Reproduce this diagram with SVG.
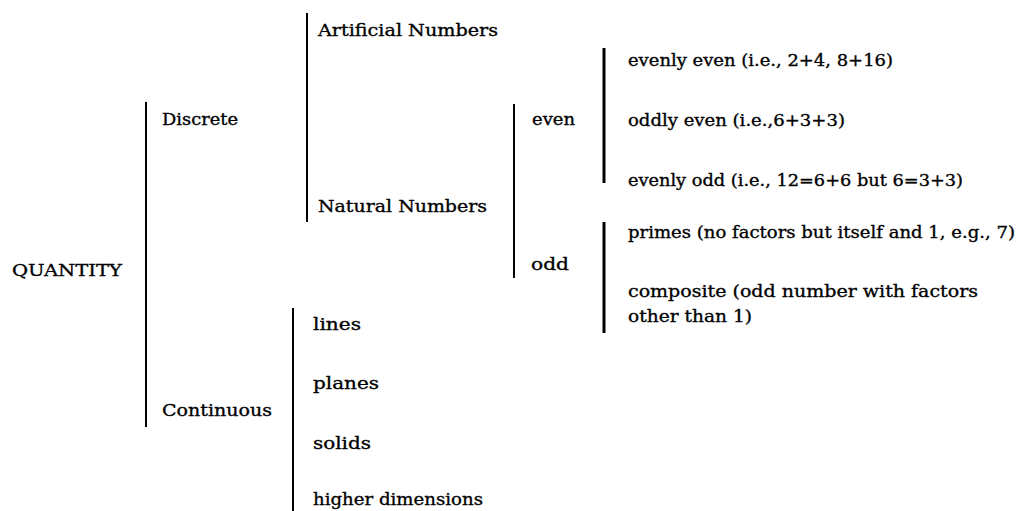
<svg xmlns="http://www.w3.org/2000/svg" width="1028" height="511" viewBox="0 0 1028 511">
<style>
text{font-family:"DejaVu Serif","Liberation Serif",serif;font-size:17.5px;fill:#000;stroke:#000;stroke-width:0.35}
.c{stroke:#000;stroke-width:2;fill:none}
.t{stroke:#000;stroke-width:3;fill:none}
</style>
<rect width="1028" height="511" fill="#fff"/>
<g id="connectors">
<line class="c" x1="146" y1="102" x2="146" y2="427"/>
<line class="c" x1="307" y1="13" x2="307" y2="222"/>
<line class="c" x1="293" y1="308" x2="293" y2="511"/>
<line class="c" x1="514" y1="104" x2="514" y2="278"/>
<line class="t" x1="604" y1="48" x2="604" y2="183"/>
<line class="t" x1="604" y1="222" x2="604" y2="333"/>
</g>
<g id="quantity"><text x="12" y="276" textLength="110" lengthAdjust="spacingAndGlyphs">QUANTITY</text></g>
<g id="discrete"><text x="162" y="125" textLength="76" lengthAdjust="spacingAndGlyphs">Discrete</text></g>
<g id="continuous"><text x="162" y="416" textLength="110" lengthAdjust="spacingAndGlyphs">Continuous</text></g>
<g id="artificial"><text x="318" y="36" textLength="180" lengthAdjust="spacingAndGlyphs">Artificial Numbers</text></g>
<g id="natural"><text x="318" y="212" textLength="169" lengthAdjust="spacingAndGlyphs">Natural Numbers</text></g>
<g id="lines"><text x="313" y="330" textLength="48" lengthAdjust="spacingAndGlyphs">lines</text></g>
<g id="planes"><text x="313" y="389" textLength="66" lengthAdjust="spacingAndGlyphs">planes</text></g>
<g id="solids"><text x="313" y="449" textLength="58" lengthAdjust="spacingAndGlyphs">solids</text></g>
<g id="higher"><text x="313" y="505" textLength="170" lengthAdjust="spacingAndGlyphs">higher dimensions</text></g>
<g id="even"><text x="532" y="125" textLength="43" lengthAdjust="spacingAndGlyphs">even</text></g>
<g id="odd"><text x="531" y="270" textLength="38" lengthAdjust="spacingAndGlyphs">odd</text></g>
<g id="evenly-even"><text x="628" y="66" textLength="265" lengthAdjust="spacingAndGlyphs">evenly even (i.e., 2+4, 8+16)</text></g>
<g id="oddly-even"><text x="628" y="126" textLength="217" lengthAdjust="spacingAndGlyphs">oddly even (i.e.,6+3+3)</text></g>
<g id="evenly-odd"><text x="628" y="186" textLength="335" lengthAdjust="spacingAndGlyphs">evenly odd (i.e., 12=6+6 but 6=3+3)</text></g>
<g id="primes"><text x="628" y="238" textLength="387" lengthAdjust="spacingAndGlyphs">primes (no factors but itself and 1, e.g., 7)</text></g>
<g id="composite"><text x="628" y="297" textLength="350" lengthAdjust="spacingAndGlyphs">composite (odd number with factors</text><text x="628" y="322" textLength="124" lengthAdjust="spacingAndGlyphs">other than 1)</text></g>
</svg>
